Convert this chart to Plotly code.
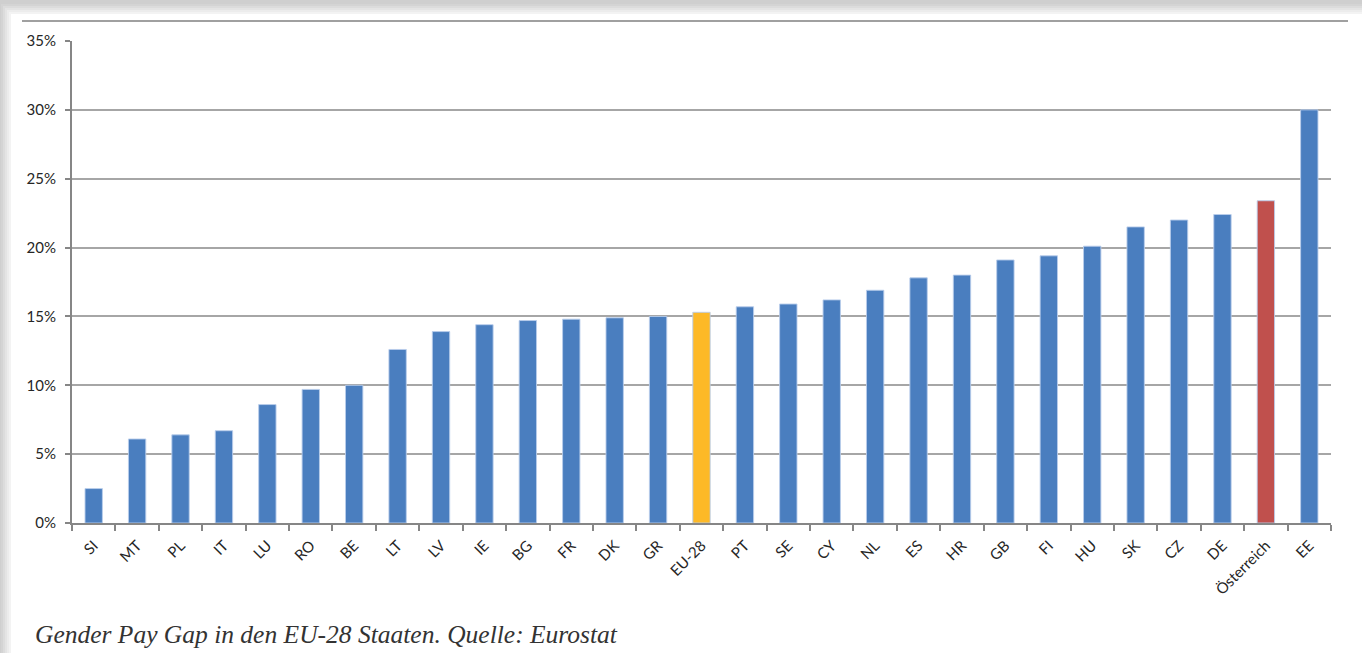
import plotly.graph_objects as go

countries = ["SI", "MT", "PL", "IT", "LU", "RO", "BE", "LT", "LV", "IE", "BG", "FR", "DK", "GR",
             "EU-28", "PT", "SE", "CY", "NL", "ES", "HR", "GB", "FI", "HU", "SK", "CZ", "DE",
             "Österreich", "EE"]
gap_pct = [2.5, 6.1, 6.4, 6.7, 8.6, 9.7, 10.0, 12.6, 13.9, 14.4, 14.7, 14.8, 14.9, 15.0,
           15.3, 15.7, 15.9, 16.2, 16.9, 17.8, 18.0, 19.1, 19.4, 20.1, 21.5, 22.0, 22.4,
           23.4, 30.0]
y_ticks = [0, 5, 10, 15, 20, 25, 30, 35]
caption = "Gender Pay Gap in den EU-28 Staaten. Quelle: Eurostat"

BLUE = "#4A7EBF"
GOLD = "#FDB927"
RED = "#C0504D"
colors = [GOLD if c == "EU-28" else RED if c == "Österreich" else BLUE for c in countries]

W, H = 1362, 653
L, R, T, B = 72, 31, 41, 130
pw, ph = W - L - R, H - T - B


def px(x):
    return (x - L) / pw


def py(y):
    return (H - B - y) / ph


fig = go.Figure()
fig.add_trace(go.Bar(
    x=countries, y=gap_pct,
    marker=dict(color=colors, line=dict(color="rgba(185,205,235,0.9)", width=1)),
    hoverinfo="x+y",
))

shapes = []
# page shadow (soft gray edges)
grays = ["#d4d4d4", "#dcdcdc", "#e4e4e4", "#ececec", "#f3f3f3"]
for i, g in enumerate(grays):
    shapes.append(dict(type="rect", xref="paper", yref="paper",
                       x0=px(1 + i * 2), x1=px(W + 5), y0=py(H + 5), y1=py(4 + i * 2),
                       fillcolor=g, line=dict(width=0), layer="below"))
shapes.append(dict(type="rect", xref="paper", yref="paper",
                   x0=px(11), x1=px(W + 5), y0=py(H + 5), y1=py(14),
                   fillcolor="white", line=dict(width=0), layer="below"))
# top rule of the page
shapes.append(dict(type="line", xref="paper", yref="paper",
                   x0=px(22), x1=px(1348), y0=py(21), y1=py(21),
                   line=dict(color="#808080", width=1.5), layer="below"))

tick_font = dict(family="Lato, Open Sans, sans-serif", size=15, color="#262626")

fig.update_layout(
    width=W, height=H,
    margin=dict(l=L, r=R, t=T, b=B, pad=0),
    paper_bgcolor="#cfcfcf",
    plot_bgcolor="rgba(0,0,0,0)",
    showlegend=False,
    bargap=0.6,
    shapes=shapes,
    font=dict(family="Lato, Open Sans, sans-serif", color="#262626"),
    xaxis=dict(
        type="category",
        tickangle=-45,
        tickfont=tick_font,
        showline=True, linecolor="#868686", linewidth=2,
        ticks="outside", ticklen=6, tickcolor="#868686", tickwidth=1.5,
        tickson="boundaries",
        ticklabelstandoff=6,
        showgrid=False,
        range=[-0.5, len(countries) - 0.5],
    ),
    yaxis=dict(
        range=[0, 35],
        tickvals=y_ticks,
        ticktext=[f"{v}%" for v in y_ticks],
        tickfont=tick_font,
        showline=True, linecolor="#868686", linewidth=2,
        ticks="outside", ticklen=5, tickcolor="#868686", tickwidth=1.5,
        ticklabelstandoff=6,
        showgrid=True, gridcolor="#a6a6a6", gridwidth=1.5,
        zeroline=False,
    ),
    annotations=[dict(
        text="<i>" + caption + "</i>", xref="paper", yref="paper",
        x=px(33), y=py(634), xanchor="left", yanchor="middle",
        showarrow=False,
        font=dict(family="Liberation Serif, DejaVu Serif, serif", size=25.5, color="#333333"),
    )],
)

fig.write_html("out.html")
